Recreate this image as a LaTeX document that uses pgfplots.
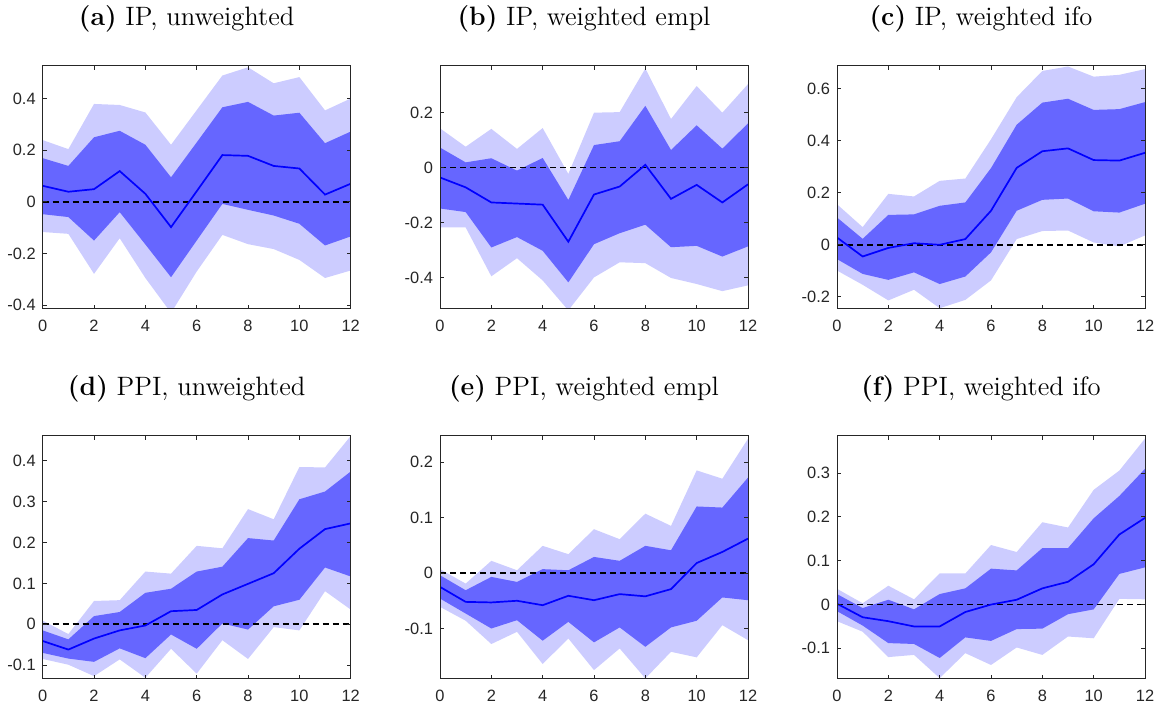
\documentclass[border=0pt]{standalone}
\usepackage{fontspec}
\usepackage{pgfplots}
\pgfplotsset{compat=1.18}
\usepackage{pgfplotstable}
\usepgfplotslibrary{fillbetween}
\newfontfamily\arialf{Liberation Sans}
\definecolor{lightband}{RGB}{204,204,255}
\definecolor{darkband}{RGB}{102,102,255}
\definecolor{axgray}{RGB}{38,38,38}

\pgfplotstableread{
x lo90 lo68 mean hi68 hi90
0 -0.117 -0.048 0.062 0.169 0.239
1 -0.124 -0.059 0.039 0.139 0.204
2 -0.279 -0.150 0.049 0.250 0.379
3 -0.141 -0.040 0.119 0.275 0.375
4 -0.295 -0.165 0.031 0.221 0.346
5 -0.430 -0.292 -0.098 0.095 0.221
6 -0.270 -0.150 0.041 0.230 0.355
7 -0.128 -0.008 0.181 0.366 0.489
8 -0.164 -0.031 0.178 0.387 0.521
9 -0.183 -0.053 0.139 0.334 0.459
10 -0.225 -0.085 0.129 0.345 0.483
11 -0.295 -0.169 0.028 0.227 0.354
12 -0.266 -0.134 0.070 0.272 0.400
}\tabA
\pgfplotstableread{
x lo90 lo68 mean hi68 hi90
0 -0.218 -0.149 -0.036 0.073 0.143
1 -0.218 -0.162 -0.072 0.019 0.076
2 -0.396 -0.291 -0.127 0.034 0.141
3 -0.330 -0.253 -0.131 -0.011 0.068
4 -0.411 -0.303 -0.135 0.035 0.144
5 -0.520 -0.418 -0.270 -0.118 -0.023
6 -0.400 -0.279 -0.098 0.082 0.200
7 -0.345 -0.239 -0.069 0.096 0.202
8 -0.348 -0.208 0.010 0.225 0.361
9 -0.402 -0.290 -0.114 0.064 0.177
10 -0.424 -0.285 -0.063 0.154 0.297
11 -0.450 -0.324 -0.127 0.069 0.200
12 -0.429 -0.287 -0.061 0.161 0.304
}\tabB
\pgfplotstableread{
x lo90 lo68 mean hi68 hi90
0 -0.099 -0.055 0.028 0.105 0.156
1 -0.154 -0.112 -0.045 0.023 0.068
2 -0.214 -0.135 -0.012 0.115 0.196
3 -0.173 -0.106 0.006 0.117 0.186
4 -0.244 -0.151 0.000 0.150 0.246
5 -0.212 -0.122 0.022 0.163 0.255
6 -0.137 -0.029 0.131 0.295 0.406
7 0.022 0.131 0.296 0.462 0.568
8 0.053 0.173 0.360 0.547 0.669
9 0.055 0.178 0.371 0.562 0.686
10 0.009 0.129 0.326 0.519 0.647
11 -0.006 0.124 0.324 0.522 0.654
12 0.036 0.158 0.354 0.549 0.676
}\tabC
\pgfplotstableread{
x lo90 lo68 mean hi68 hi90
0 -0.085 -0.070 -0.041 -0.015 0.009
1 -0.099 -0.084 -0.062 -0.037 -0.024
2 -0.127 -0.092 -0.035 0.020 0.057
3 -0.086 -0.059 -0.015 0.030 0.059
4 -0.131 -0.083 -0.003 0.077 0.129
5 -0.060 -0.025 0.032 0.087 0.124
6 -0.121 -0.060 0.035 0.129 0.192
7 -0.039 0.002 0.073 0.141 0.186
8 -0.085 -0.013 0.099 0.211 0.282
9 -0.007 0.044 0.125 0.205 0.257
10 -0.015 0.060 0.185 0.306 0.385
11 0.081 0.139 0.233 0.325 0.384
12 0.036 0.117 0.247 0.374 0.461
}\tabD
\pgfplotstableread{
x lo90 lo68 mean hi68 hi90
0 -0.061 -0.046 -0.025 -0.004 0.007
1 -0.086 -0.073 -0.052 -0.031 -0.019
2 -0.128 -0.100 -0.053 -0.007 0.022
3 -0.106 -0.085 -0.050 -0.016 0.005
4 -0.164 -0.122 -0.058 0.007 0.049
5 -0.118 -0.088 -0.041 0.005 0.034
6 -0.175 -0.125 -0.049 0.029 0.079
7 -0.136 -0.098 -0.038 0.022 0.061
8 -0.190 -0.133 -0.042 0.049 0.107
9 -0.142 -0.098 -0.029 0.041 0.085
10 -0.152 -0.086 0.018 0.120 0.185
11 -0.094 -0.044 0.038 0.118 0.170
12 -0.121 -0.049 0.062 0.172 0.242
}\tabE
\pgfplotstableread{
x lo90 lo68 mean hi68 hi90
0 -0.038 -0.015 0.002 0.024 0.036
1 -0.062 -0.048 -0.029 -0.008 0.003
2 -0.120 -0.088 -0.038 0.011 0.043
3 -0.115 -0.090 -0.050 -0.011 0.012
4 -0.168 -0.122 -0.050 0.024 0.071
5 -0.111 -0.075 -0.017 0.037 0.071
6 -0.138 -0.083 0.000 0.082 0.136
7 -0.098 -0.056 0.011 0.078 0.120
8 -0.115 -0.055 0.037 0.129 0.188
9 -0.073 -0.022 0.052 0.129 0.176
10 -0.077 -0.011 0.092 0.197 0.262
11 0.013 0.070 0.160 0.248 0.306
12 0.012 0.085 0.198 0.310 0.379
}\tabF

\pgfplotsset{irf/.style={
  scale only axis, width=154pt, height=121.5pt,
  anchor=south west,
  xmin=0, xmax=12, xtick={0,2,...,12},
  no markers,
  axis on top,
  axis line style={axgray, line width=0.5pt},
  tick style={axgray, line width=0.5pt},
  major tick length=2pt,
  tick label style={font=\arialf\fontsize{8.2}{9}\selectfont, text=axgray},
  xticklabel style={yshift=-2.2pt},
  /pgf/number format/assume math mode=true,
  /pgf/number format/fixed, /pgf/number format/precision=1,
  title style={font=\fontsize{13.3}{15}\selectfont, at={(0.4675,1)}, anchor=base, yshift=14pt},
}}

\newcommand\irfpanel[7]{%
\begin{axis}[irf, at={(#1,#2)}, title={#3}, ymin=#5, ymax=#6, ytick={#7}]
\addplot[name path=hiL, draw=none] table[x=x,y=hi90]{#4};
\addplot[name path=loL, draw=none] table[x=x,y=lo90]{#4};
\addplot[name path=hiD, draw=none] table[x=x,y=hi68]{#4};
\addplot[name path=loD, draw=none] table[x=x,y=lo68]{#4};
\addplot[lightband, draw=none] fill between[of=hiL and loL];
\addplot[darkband, draw=none] fill between[of=hiD and loD];
\addplot[black, line width=0.9pt, dash pattern=on 3pt off 2pt] coordinates {(0,0) (12,0)};
\addplot[blue, line width=0.85pt] table[x=x,y=mean]{#4};
\end{axis}}

\begin{document}
\begin{tikzpicture}
\irfpanel{21.35pt}{201pt}{\textbf{(a)} IP, unweighted}{\tabA}{-0.415}{0.526}{-0.4,-0.2,...,0.4}
\irfpanel{220pt}{201pt}{\textbf{(b)} IP, weighted empl}{\tabB}{-0.515}{0.37}{-0.4,-0.2,...,0.2}
\irfpanel{418.5pt}{201pt}{\textbf{(c)} IP, weighted ifo}{\tabC}{-0.247}{0.688}{-0.2,0,...,0.6}
\irfpanel{21.35pt}{16pt}{\textbf{(d)} PPI, unweighted}{\tabD}{-0.134}{0.461}{-0.1,0,...,0.4}
\irfpanel{220pt}{16pt}{\textbf{(e)} PPI, weighted empl}{\tabE}{-0.191}{0.247}{-0.1,0,...,0.2}
\irfpanel{418.5pt}{16pt}{\textbf{(f)} PPI, weighted ifo}{\tabF}{-0.17}{0.385}{-0.1,0,...,0.3}
\pgfresetboundingbox
\useasboundingbox (0,0) rectangle (581pt,355.5pt);
\end{tikzpicture}
\end{document}
